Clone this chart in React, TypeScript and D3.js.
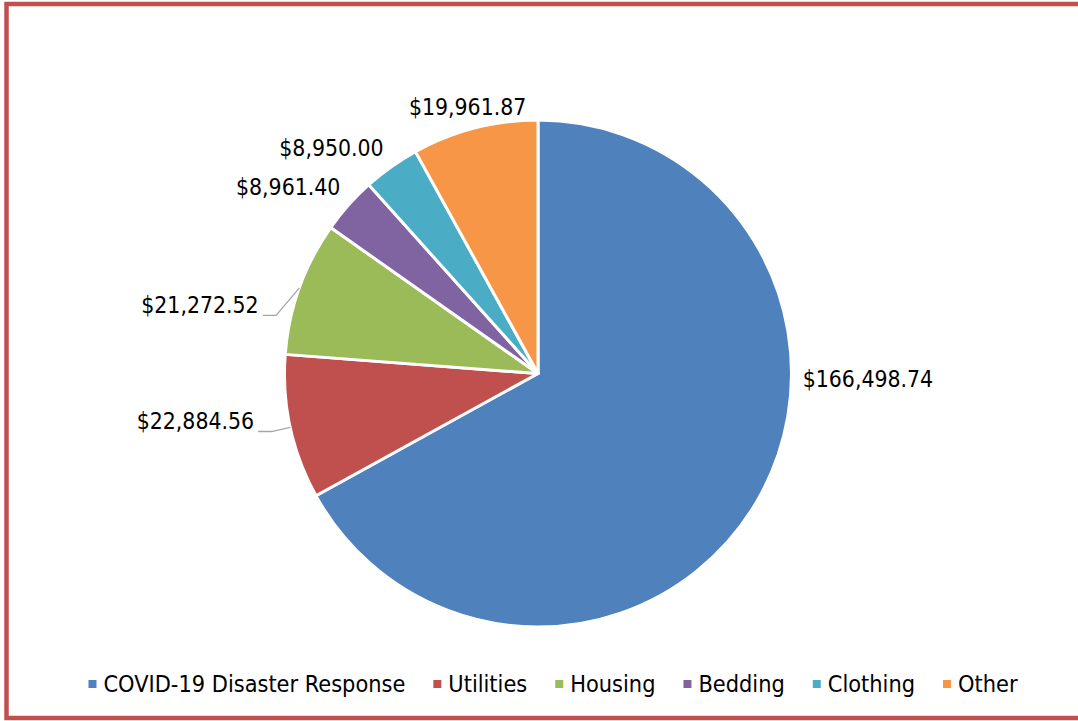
import React, { useEffect, useRef } from "react";
import * as d3 from "d3";

const categories = ["COVID-19 Disaster Response", "Utilities", "Housing", "Bedding", "Clothing", "Other"];
const amounts = [166498.74, 22884.56, 21272.52, 8961.4, 8950.0, 19961.87];
const labels = ["$166,498.74", "$22,884.56", "$21,272.52", "$8,961.40", "$8,950.00", "$19,961.87"];
const colors = ["#4F81BD", "#C0504D", "#9BBB59", "#8064A2", "#4BACC6", "#F79646"];
// label nudges (layout) relative to point at radius r+20 along mid-angle
const labelNudge: [number, number][] = [[94.5, -133.7], [-75.3, -10.5], [-80.6, 23.7], [-45.4, -4.9], [-48.1, -2.6], [-2.1, -1.7]];
const hasLeader = [false, true, true, false, false, false];

const W = 1078, H = 721;
const FONT = "'DejaVu Sans Condensed', 'DejaVu Sans', Verdana, sans-serif";

export default function App() {
  const ref = useRef<SVGSVGElement>(null);
  useEffect(() => {
    const svg = d3.select(ref.current);
    svg.selectAll("*").remove();
    svg.append("rect").attr("width", W).attr("height", H).attr("fill", "#fff");
    svg.append("rect").attr("x", 6.5).attr("y", 4).attr("width", 1100).attr("height", 714)
      .attr("fill", "none").attr("stroke", "#C0504D").attr("stroke-width", 4.5);

    const cx = 538, cy = 373.5, r = 253.5;
    const data = categories.map((c, i) => ({ c, v: amounts[i], i }));
    const pie = d3.pie<any>().sort(null).value((d: any) => d.v).startAngle(0).endAngle(2 * Math.PI);
    const arcs = pie(data);
    const arc = d3.arc<any>().innerRadius(0).outerRadius(r);
    const g = svg.append("g").attr("transform", `translate(${cx},${cy})`);
    g.selectAll("path").data(arcs).enter().append("path")
      .attr("d", arc as any).attr("fill", (d: any) => colors[d.data.i])
      .attr("stroke", "#fff").attr("stroke-width", 3).attr("stroke-linejoin", "round");

    const lg = svg.append("g");
    arcs.forEach((a: any, i: number) => {
      const mid = (a.startAngle + a.endAngle) / 2;
      const dx = Math.sin(mid), dy = -Math.cos(mid);
      const lx = cx + dx * (r + 20) + labelNudge[i][0];
      const ly = cy + dy * (r + 20) + labelNudge[i][1];
      const t = lg.append("text").attr("x", lx).attr("y", ly).attr("dy", "0.36em")
        .attr("text-anchor", "middle").attr("font-family", FONT).attr("font-size", 22.8)
        .attr("fill", "#000").text(labels[i]);
      if (hasLeader[i]) {
        const w = (t.node() as SVGTextElement).getComputedTextLength();
        const right = lx + w / 2;
        const yl = ly + 10.5;
        const px = cx + dx * r, py = cy + dy * r;
        lg.append("polyline")
          .attr("points", `${right + 4},${yl} ${right + 17.5},${yl} ${px},${py}`)
          .attr("fill", "none").attr("stroke", "#A6A6A6").attr("stroke-width", 1.3);
      }
    });

    // legend
    const leg = svg.append("g");
    const items = categories.map((c, i) => {
      const t = leg.append("text").attr("font-family", FONT).attr("font-size", 23.3)
        .attr("fill", "#000").attr("y", 684).attr("dy", "0.36em").text(c);
      const w = (t.node() as SVGTextElement).getComputedTextLength();
      return { t, w, i };
    });
    const itemW = items.map(it => 15 + it.w);
    const gap = 28;
    const total = d3.sum(itemW) + gap * (items.length - 1);
    let x = 553 - total / 2;
    items.forEach((it, k) => {
      leg.append("rect").attr("x", x).attr("y", 680).attr("width", 8).attr("height", 8).attr("fill", colors[it.i]);
      it.t.attr("x", x + 15);
      x += itemW[k] + gap;
    });
  }, []);
  return (
    <svg ref={ref} width={W} height={H} style={{ position: "absolute", left: 0, top: 0, display: "block" }} />
  );
}
